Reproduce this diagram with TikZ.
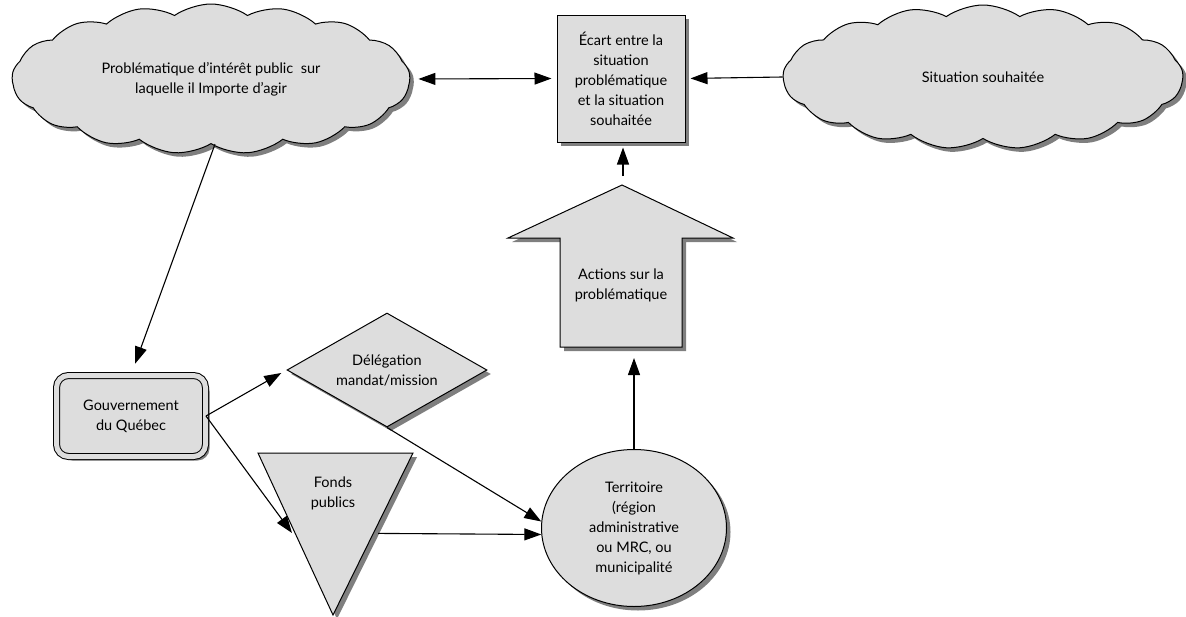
\documentclass[tikz,border=0pt]{standalone}
\usepackage{fontspec}
\setmainfont{Lato}
\usetikzlibrary{shapes.geometric,shapes.symbols,shadows,arrows.meta,calc}
\definecolor{shapefill}{RGB}{221,221,221}
\definecolor{shadowgray}{RGB}{105,105,105}
\begin{document}
\begin{tikzpicture}[x=1pt,y=-1pt,
  font=\fontsize{14.5}{20}\selectfont,
  every node/.style={align=center},
  >={Triangle[length=17pt,width=12pt]},
  castshadow/.style={drop shadow={shadow xshift=4pt,shadow yshift=-4pt,fill=shadowgray,opacity=0.85}},
  shapebox/.style={draw,line width=1pt,fill=shapefill,castshadow},
  puff/.style={shapebox,cloud,cloud puffs=17,cloud puff arc=70,cloud ignores aspect,inner sep=0pt},
  link/.style={line width=1.1pt,->},
]
\useasboundingbox (0,0) rectangle (1186,616);

% top row: problem, gap, desired situation
\node[puff,minimum width=398pt,minimum height=150pt] (prob) at (211,79)
  {Problématique d'intérêt public\ \ sur\\laquelle il Importe d'agir};
\node[shapebox,rectangle,minimum width=128pt,minimum height=127pt,inner sep=2pt] (ecart) at (621,78.5)
  {Écart entre la\\situation\\problématique\\et la situation\\souhaitée};
\node[puff,minimum width=400pt,minimum height=144pt] (souh) at (983,77)
  {Situation souhaitée};

% block arrow: actions
\path[shapebox] (560,347) -- (560,238) -- (508,238) -- (622,185) -- (733,238)
  -- (682,238) -- (682,347) -- cycle;
\node (act) at (621,285) {Actions sur la\\problématique};
\coordinate (acttip) at (623,176);
\coordinate (actfoot) at (634,351);

% government
\node[shapebox,double,double=shapefill,double distance=5pt,rounded corners=12pt,
  minimum width=149pt,minimum height=81pt] (gouv) at (131,416) {Gouvernement\\du Québec};

% delegation
\node[shapebox,diamond,aspect=1.75,minimum width=200pt,minimum height=114pt,inner sep=0pt]
  (deleg) at (387,370) {Délégation\\mandat/mission};

% public funds (inverted triangle)
\path[shapebox] (258,453) -- (413,453) -- (333,615) -- cycle;
\node (fonds) at (333,493) {Fonds\\publics};
\coordinate (fondsin) at (292,533);
\coordinate (fondsout) at (378,533.4);

% territory
\node[shapebox,ellipse,minimum width=185pt,minimum height=157pt,inner sep=0pt] (terr) at (634,528)
  {Territoire\\(région\\administrative\\ou MRC, ou\\municipalité};

% connectors
\draw[link,<->,shorten <=8pt,shorten >=5pt] (prob.east) -- (ecart.west);
\draw[link,shorten >=5pt] (souh.west) -- (ecart.east);
\draw[link,shorten >=5pt] (acttip) -- (ecart.south -| acttip);
\draw[link,shorten >=7pt] (terr.north) -- (actfoot);
\draw[link,shorten >=12pt] ($(prob.south)+(4,0)$) -- (gouv.north);
\draw[link,shorten >=6pt] (gouv.east) -- (deleg.west);
\draw[link] (gouv.east) -- (fondsin);
\draw[link] (deleg.south) -- (terr.176);
\draw[link] (fondsout) -- (terr.184);
\end{tikzpicture}
\end{document}
